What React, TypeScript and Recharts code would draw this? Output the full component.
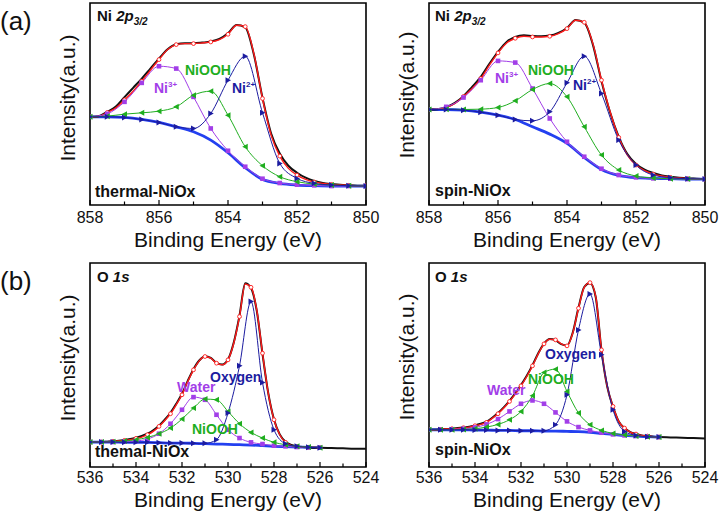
import React from 'react';
import { LineChart, Line, XAxis, YAxis, ReferenceArea } from 'recharts';

const FONT = '"Liberation Sans", Arial, Helvetica, sans-serif';
const COL = { raw: '#111111', env: '#ff1a1a', bg: '#2340f0', ni3: '#a23ee8', niooh: '#1fae1f', ni2: '#1c1ca0' };

// ---------- Ni 2p3/2 panels ----------
const niTicks = [850, 851, 852, 853, 854, 855, 856, 857, 858];
const niE = [858, 857.5, 857, 856.5, 856, 855.5, 855, 854.5, 854, 853.5, 853, 852.5, 852, 851.5, 851, 850.5, 850];
const niEfine = [858, 857.75, 857.5, 857.25, 857, 856.75, 856.5, 856.25, 856, 855.75, 855.5, 855.25, 855, 854.75, 854.5, 854.25, 854, 853.75, 853.5, 853.25, 853, 852.75, 852.5, 852.25, 852, 851.75, 851.5, 851.25, 851, 850.75, 850.5, 850.25, 850];

// thermal-NiOx
const thNiEnv = [265, 266, 278, 292, 316, 342, 372, 405, 437, 467, 482, 485, 485, 487, 490, 497, 513, 540, 536, 455, 320, 210, 147, 110, 90, 77, 69, 65, 62, 60, 59, 58, 58];
const thNiRaw = [265, 267, 280, 296, 324, 352, 380, 410, 440, 468, 483, 486, 486, 488, 491, 499, 516, 541, 534, 452, 322, 215, 155, 118, 97, 82, 72, 66, 63, 61, 59, 58, 58];
const thNiBg = [265, 265, 263, 257, 248, 235, 220, 195, 157, 112, 77, 65, 60, 58, 57, 57, 57];
const thNi3 = [265, 274, 310, 367, 417, 410, 325, 230, 163, 115, 79, 66, 61, 59, 57, 57, 57];
const thNiOOH = [265, 267, 273, 277, 282, 295, 330, 342, 270, 175, 118, 85, 70, 63, 60, 58, 57];
const thNi2 = [265, 265, 263, 257, 248, 235, 230, 275, 375, 447, 277, 125, 80, 65, 60, 58, 57];

// spin-NiOx
const spNiEnv = [287, 288, 293, 305, 326, 350, 380, 420, 457, 487, 501, 507, 505, 505, 507, 515, 530, 555, 549, 485, 375, 280, 203, 150, 120, 103, 93, 87, 83, 81, 79, 78, 78];
const spNiRaw = [287, 288, 294, 307, 327, 355, 385, 424, 460, 490, 505, 510, 508, 507, 509, 517, 532, 556, 548, 482, 372, 278, 205, 153, 123, 106, 96, 89, 85, 82, 80, 79, 78];
const spNiBg = [287, 287, 285, 279, 270, 257, 235, 213, 185, 143, 107, 89, 82, 80, 79, 78, 78];
const spNi3 = [287, 295, 323, 375, 433, 428, 350, 260, 190, 145, 109, 90, 83, 80, 79, 78, 78];
const spNiOOH = [287, 288, 287, 288, 293, 313, 347, 365, 325, 235, 150, 105, 87, 81, 79, 78, 78];
const spNi2 = [287, 287, 285, 279, 270, 257, 253, 280, 367, 447, 335, 195, 120, 90, 82, 79, 78];

// ---------- O 1s panels ----------
const oTicks = [524, 525, 526, 527, 528, 529, 530, 531, 532, 533, 534, 535, 536];
const oE = [536, 535.5, 535, 534.5, 534, 533.5, 533, 532.5, 532, 531.5, 531, 530.5, 530, 529.5, 529, 528.5, 528, 527.5, 527, 526.5, 526];
const oEfine = [536, 535.75, 535.5, 535.25, 535, 534.75, 534.5, 534.25, 534, 533.75, 533.5, 533.25, 533, 532.75, 532.5, 532.25, 532, 531.75, 531.5, 531.25, 531, 530.75, 530.5, 530.25, 530, 529.75, 529.5, 529.25, 529, 528.75, 528.5, 528.25, 528, 527.75, 527.5, 527.25, 527, 526.75, 526.5, 526.25, 526];
const oErawTail = [525.5, 525, 524.5, 524];

// thermal-NiOx
const thOEnv = [75, 75, 75, 76, 77, 78, 80, 82, 86, 90, 97, 107, 122, 140, 160, 187, 217, 257, 292, 319, 332, 327, 312, 307, 322, 372, 452, 550, 540, 472, 342, 222, 142, 97, 74, 65, 61, 60, 59, 59, 58];
const thORaw = [75, 75, 75, 76, 77, 79, 81, 84, 88, 93, 100, 110, 124, 142, 163, 190, 220, 259, 294, 320, 333, 328, 313, 308, 323, 374, 455, 552, 538, 470, 340, 222, 143, 98, 76, 66, 62, 60, 59, 58, 58];
const thORawTail = [57, 56, 55, 55];
const thOBg = [75, 75, 75, 74, 74, 74, 73, 72, 72, 71, 70, 69, 68, 67, 66, 64, 62, 61, 60, 59, 58];
const thOWater = [75, 75, 75, 76, 78, 84, 100, 130, 172, 210, 202, 157, 112, 87, 74, 69, 64, 62, 60, 59, 58];
const thONiOOH = [75, 75, 76, 78, 82, 89, 100, 117, 144, 177, 204, 202, 167, 130, 104, 87, 74, 67, 62, 60, 58];
const thOOxy = [75, 75, 75, 74, 74, 74, 73, 72, 72, 71, 71, 82, 162, 304, 497, 254, 112, 70, 62, 59, 58];

// spin-NiOx
const spOEnv = [112, 112, 113, 114, 115, 116, 118, 120, 124, 128, 134, 146, 160, 177, 197, 219, 244, 272, 304, 340, 370, 384, 382, 370, 364, 402, 477, 540, 554, 512, 352, 242, 182, 137, 117, 105, 99, 95, 93, 91, 90];
const spORaw = [112, 112, 113, 114, 115, 117, 119, 121, 125, 130, 136, 148, 162, 179, 199, 221, 246, 274, 306, 342, 371, 385, 381, 369, 365, 404, 479, 541, 553, 510, 350, 241, 181, 137, 117, 105, 99, 95, 93, 91, 90];
const spORawTail = [89, 88, 87, 86];
const spOBg = [112, 112, 112, 112, 111, 111, 110, 110, 109, 109, 108, 108, 107, 106, 104, 101, 98, 95, 93, 91, 90];
const spOWater = [112, 112, 113, 115, 119, 128, 144, 167, 190, 200, 190, 164, 137, 120, 110, 103, 98, 95, 93, 91, 90];
const spONiOOH = [112, 112, 112, 113, 115, 120, 128, 142, 167, 214, 284, 294, 227, 162, 127, 110, 101, 96, 93, 91, 90];
const spOOxy = [112, 112, 112, 112, 111, 111, 110, 110, 109, 109, 109, 127, 217, 412, 520, 337, 172, 107, 95, 91, 90];

// ---------- helpers ----------
const zip = (xs: number[], ys: number[]) => xs.map((E, i) => ({ E, v: ys[i] }));

const square = (color: string) => (p: any) =>
  p.cx == null || p.cy == null ? <g key={`s${p.index}`} /> :
  <rect key={`s${p.index}`} x={p.cx - 2.3} y={p.cy - 2.3} width={4.6} height={4.6} fill={color} />;
const triLeft = (color: string) => (p: any) =>
  p.cx == null || p.cy == null ? <g key={`l${p.index}`} /> :
  <path key={`l${p.index}`} d={`M${p.cx - 3},${p.cy}L${p.cx + 2.5},${p.cy - 3}L${p.cx + 2.5},${p.cy + 3}Z`} fill={color} />;
const triRight = (color: string) => (p: any) =>
  p.cx == null || p.cy == null ? <g key={`r${p.index}`} /> :
  <path key={`r${p.index}`} d={`M${p.cx + 3},${p.cy}L${p.cx - 2.5},${p.cy - 3}L${p.cx - 2.5},${p.cy + 3}Z`} fill={color} />;
const openCircle = (p: any) =>
  p.cx == null || p.cy == null || (p.payload.E * 2) % 1 !== 0 ? <g key={`c${p.index}`} /> :
  <circle key={`c${p.index}`} cx={p.cx} cy={p.cy} r={1.9} fill="#fff" stroke={COL.env} strokeWidth={0.9} />;

const makeTick = (plotBottom: number, labelGap: number) => (props: any) => {
  const { x, payload } = props;
  const v = payload.value as number;
  const major = v % 2 === 0;
  return (
    <g>
      <line x1={x} x2={x} y1={plotBottom} y2={plotBottom - (major ? 5 : 3.5)} stroke="#000" strokeWidth={1.2} />
      {major && (
        <text x={x} y={plotBottom + labelGap} textAnchor="middle" fontSize={16} fontFamily={FONT} fill="#111">{v}</text>
      )}
    </g>
  );
};

type Pt = { E: number; v: number };
type PanelProps = {
  left: number; top: number; width: number; height: number;
  margin: { top: number; left: number; right: number; bottom: number };
  domain: [number, number]; ticks: number[]; ymax: number; plotBottom: number; labelGap: number;
  fine: Pt[]; raw: Pt[]; bg: Pt[]; purple: Pt[]; green: Pt[]; navy: Pt[];
};

function Panel(p: PanelProps) {
  return (
    <div style={{ position: 'absolute', left: p.left, top: p.top }}>
      <LineChart width={p.width} height={p.height} margin={p.margin}>
        <XAxis type="number" dataKey="E" domain={p.domain} reversed ticks={p.ticks} interval={0}
          allowDataOverflow axisLine={false} tickLine={false} height={20} tick={makeTick(p.plotBottom, p.labelGap)} />
        <YAxis hide type="number" domain={[0, p.ymax]} allowDataOverflow />
        <ReferenceArea x1={p.domain[0]} x2={p.domain[1]} y1={0} y2={p.ymax} fill="none" stroke="#000" strokeWidth={1.6} ifOverflow="visible" />
        <Line data={p.bg} dataKey="v" type="monotone" stroke={COL.bg} strokeWidth={2.8} dot={false} isAnimationActive={false} />
        <Line data={p.raw} dataKey="v" type="monotone" stroke={COL.raw} strokeWidth={2} dot={false} isAnimationActive={false} />
        <Line data={p.fine} dataKey="v" type="monotone" stroke={COL.env} strokeWidth={1.4} dot={openCircle} isAnimationActive={false} />
        <Line data={p.purple} dataKey="v" type="monotone" stroke={COL.ni3} strokeWidth={1} dot={square(COL.ni3)} isAnimationActive={false} />
        <Line data={p.green} dataKey="v" type="monotone" stroke={COL.niooh} strokeWidth={1} dot={triLeft(COL.niooh)} isAnimationActive={false} />
        <Line data={p.navy} dataKey="v" type="monotone" stroke={COL.ni2} strokeWidth={1} dot={triRight(COL.ni2)} isAnimationActive={false} />
      </LineChart>
    </div>
  );
}

const B = { fontFamily: FONT, fontWeight: 700 as const };

export default function App() {
  const topMargin = { top: 3, left: 90, right: 14, bottom: 35 };
  const topMargin2 = { top: 3, left: 59, right: 15, bottom: 35 };
  const botMargin = { top: 8, left: 90, right: 14, bottom: 27 };
  const botMargin2 = { top: 8, left: 59, right: 15, bottom: 27 };
  const oRawE = [...oEfine, ...oErawTail];
  return (
    <div style={{ position: 'absolute', left: 0, top: 0, width: 720, height: 514, background: '#fff', overflow: 'hidden' }}>
      <Panel left={0} top={0} width={380} height={260} margin={topMargin} domain={[850, 858]} ticks={niTicks} ymax={607} plotBottom={205} labelGap={18}
        fine={zip(niEfine, thNiEnv)} raw={zip(niEfine, thNiRaw)} bg={zip(niE, thNiBg)} purple={zip(niE, thNi3)} green={zip(niE, thNiOOH)} navy={zip(niE, thNi2)} />
      <Panel left={370} top={0} width={350} height={260} margin={topMargin2} domain={[850, 858]} ticks={niTicks} ymax={607} plotBottom={205} labelGap={18}
        fine={zip(niEfine, spNiEnv)} raw={zip(niEfine, spNiRaw)} bg={zip(niE, spNiBg)} purple={zip(niE, spNi3)} green={zip(niE, spNiOOH)} navy={zip(niE, spNi2)} />
      <Panel left={0} top={255} width={380} height={259} margin={botMargin} domain={[524, 536]} ticks={oTicks} ymax={613} plotBottom={212} labelGap={16}
        fine={zip(oEfine, thOEnv)} raw={zip(oRawE, [...thORaw, ...thORawTail])} bg={zip(oE, thOBg)} purple={zip(oE, thOWater)} green={zip(oE, thONiOOH)} navy={zip(oE, thOOxy)} />
      <Panel left={370} top={255} width={350} height={259} margin={botMargin2} domain={[524, 536]} ticks={oTicks} ymax={613} plotBottom={212} labelGap={16}
        fine={zip(oEfine, spOEnv)} raw={zip(oRawE, [...spORaw, ...spORawTail])} bg={zip(oE, spOBg)} purple={zip(oE, spOWater)} green={zip(oE, spONiOOH)} navy={zip(oE, spOOxy)} />

      <svg width={720} height={514} style={{ position: 'absolute', left: 0, top: 0, pointerEvents: 'none' }}>
        <text x={0} y={30} fontSize={26} fontFamily={FONT} fill="#111">(a)</text>
        <text x={0} y={290} fontSize={26} fontFamily={FONT} fill="#111">(b)</text>

        {/* axis titles */}
        <text x={228} y={247} textAnchor="middle" fontSize={21} fontFamily={FONT} fill="#111">Binding Energy (eV)</text>
        <text x={567} y={247} textAnchor="middle" fontSize={21} fontFamily={FONT} fill="#111">Binding Energy (eV)</text>
        <text x={228} y={507} textAnchor="middle" fontSize={21} fontFamily={FONT} fill="#111">Binding Energy (eV)</text>
        <text x={567} y={507} textAnchor="middle" fontSize={21} fontFamily={FONT} fill="#111">Binding Energy (eV)</text>
        <text transform="translate(75,98) rotate(-90)" textAnchor="middle" fontSize={21} fontFamily={FONT} fill="#111">Intensity(a.u.)</text>
        <text transform="translate(414,95) rotate(-90)" textAnchor="middle" fontSize={21} fontFamily={FONT} fill="#111">Intensity(a.u.)</text>
        <text transform="translate(75,358) rotate(-90)" textAnchor="middle" fontSize={21} fontFamily={FONT} fill="#111">Intensity(a.u.)</text>
        <text transform="translate(414,357) rotate(-90)" textAnchor="middle" fontSize={21} fontFamily={FONT} fill="#111">Intensity(a.u.)</text>

        {/* panel titles */}
        <text x={97} y={21} fontSize={15} {...B} fill="#111">Ni <tspan fontStyle="italic">2p</tspan><tspan fontStyle="italic" fontSize={10} dy={4}>3/2</tspan></text>
        <text x={435} y={21} fontSize={15} {...B} fill="#111">Ni <tspan fontStyle="italic">2p</tspan><tspan fontStyle="italic" fontSize={10} dy={4}>3/2</tspan></text>
        <text x={97} y={282} fontSize={15} {...B} fill="#111">O <tspan fontStyle="italic">1s</tspan></text>
        <text x={435} y={282} fontSize={15} {...B} fill="#111">O <tspan fontStyle="italic">1s</tspan></text>
        <text x={95} y={197} fontSize={16} {...B} fill="#111">thermal-NiOx</text>
        <text x={435} y={196} fontSize={16} {...B} fill="#111">spin-NiOx</text>
        <text x={95} y={457} fontSize={16} {...B} fill="#111">themal-NiOx</text>
        <text x={435} y={455} fontSize={16} {...B} fill="#111">spin-NiOx</text>

        {/* component labels */}
        <text x={154} y={93} fontSize={14} {...B} fill={COL.ni3}>Ni<tspan fontSize={8} dy={-6}>3+</tspan></text>
        <text x={185} y={75} fontSize={14} {...B} fill={COL.niooh}>NiOOH</text>
        <text x={232} y={93} fontSize={14} {...B} fill={COL.ni2}>Ni<tspan fontSize={8} dy={-6}>2+</tspan></text>

        <text x={495} y={83} fontSize={14} {...B} fill={COL.ni3}>Ni<tspan fontSize={8} dy={-6}>3+</tspan></text>
        <text x={528} y={75} fontSize={14} {...B} fill={COL.niooh}>NiOOH</text>
        <text x={573} y={90} fontSize={14} {...B} fill={COL.ni2}>Ni<tspan fontSize={8} dy={-6}>2+</tspan></text>

        <text x={177} y={392} fontSize={14} {...B} fill={COL.ni3}>Water</text>
        <text x={210} y={382} fontSize={14} {...B} fill={COL.ni2}>Oxygen</text>
        <text x={192} y={434} fontSize={14} {...B} fill={COL.niooh}>NiOOH</text>

        <text x={487} y={395} fontSize={14} {...B} fill={COL.ni3}>Water</text>
        <text x={545} y={359} fontSize={14} {...B} fill={COL.ni2}>Oxygen</text>
        <text x={528} y={384} fontSize={14} {...B} fill={COL.niooh}>NiOOH</text>
      </svg>
    </div>
  );
}
